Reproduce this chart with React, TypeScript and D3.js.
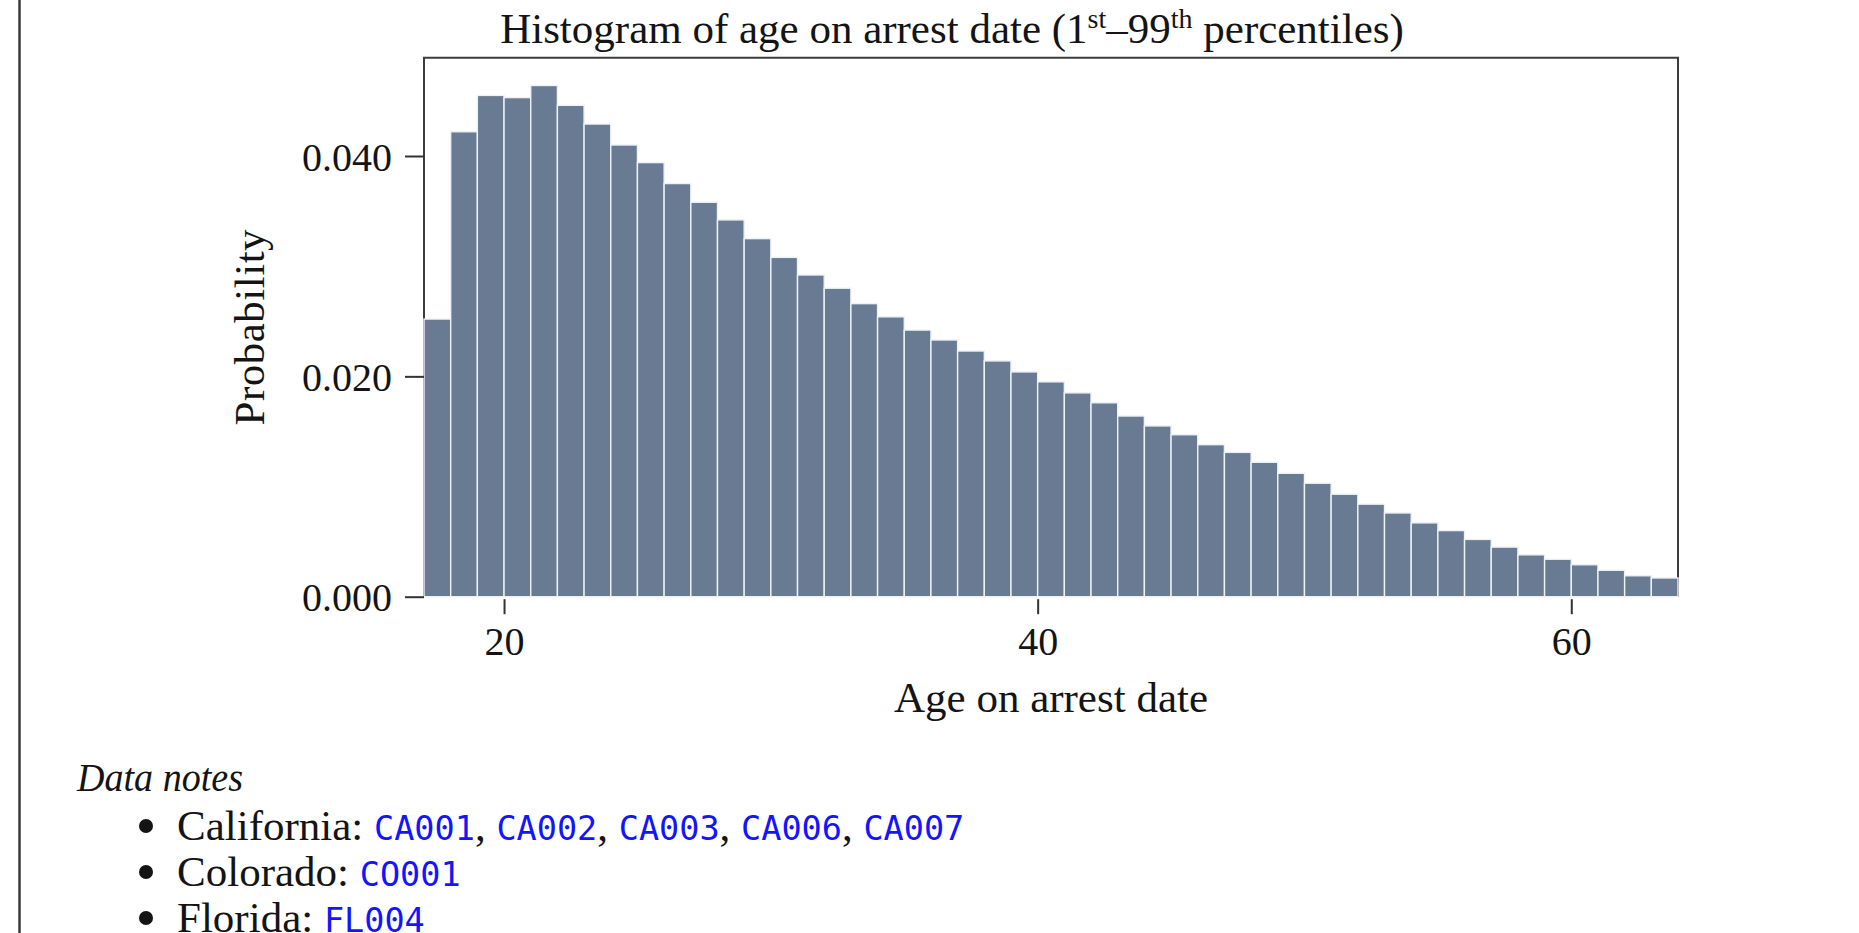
import React, { useEffect, useRef } from 'react';
import * as d3 from 'd3';

const binStarts = [17, 18, 19, 20, 21, 22, 23, 24, 25, 26, 27, 28, 29, 30, 31, 32, 33, 34, 35, 36, 37, 38, 39, 40, 41, 42, 43, 44, 45, 46, 47, 48, 49, 50, 51, 52, 53, 54, 55, 56, 57, 58, 59, 60, 61, 62, 63];
const binWidth = 1;
const probabilities = [
  0.0252, 0.0422, 0.0455, 0.0453, 0.0464, 0.0446, 0.0429, 0.0410, 0.0394, 0.0375,
  0.0358, 0.0342, 0.0325, 0.0308, 0.0292, 0.0280, 0.0266, 0.0254, 0.0242, 0.0233,
  0.0223, 0.0214, 0.0204, 0.0195, 0.0185, 0.0176, 0.0164, 0.0155, 0.0147, 0.0138,
  0.0131, 0.0122, 0.0112, 0.0103, 0.0093, 0.0084, 0.0076, 0.0067, 0.0060, 0.0052,
  0.0045, 0.0038, 0.0034, 0.0029, 0.0024, 0.0019, 0.0017,
];
const xDomain = [17, 64];
const yTicks = [0, 0.02, 0.04];
const xTicks = [20, 40, 60];
const titleParts = ['Histogram of age on arrest date (1', 'st', '–99', 'th', ' percentiles)'];
const xLabel = 'Age on arrest date';
const yLabel = 'Probability';
const notesHeading = 'Data notes';
const noteStates = ['California', 'Colorado', 'Florida'];
const noteCodes = [
  ['CA001', 'CA002', 'CA003', 'CA006', 'CA007'],
  ['CO001'],
  ['FL004'],
];

const SERIF = '"Liberation Serif", "Times New Roman", serif';
const MONO = '"DejaVu Sans Mono", "Liberation Mono", monospace';
const BAR = '#687b93';
const INK = '#141414';

export default function App() {
  const ref = useRef<SVGSVGElement>(null);

  useEffect(() => {
    const W = 1859, H = 933;
    const L = 424, R = 1678, T = 57.7, B = 596.7;
    const svg = d3.select(ref.current);
    svg.selectAll('*').remove();

    svg.append('rect').attr('width', W).attr('height', H).attr('fill', '#fff');

    // page margin rule
    svg.append('line').attr('x1', 19.5).attr('x2', 19.5).attr('y1', 0).attr('y2', H)
      .attr('stroke', '#3a3a3a').attr('stroke-width', 2.5);

    const x = d3.scaleLinear().domain(xDomain).range([L, R]);
    const y = d3.scaleLinear().domain([0, 0.04]).range([B, 156]);

    // frame (behind bars)
    svg.append('path')
      .attr('d', `M${L},${B}V${T}H${R}V${B}`)
      .attr('fill', 'none').attr('stroke', '#3c3c3c').attr('stroke-width', 2);

    // bars
    svg.append('g').selectAll('rect').data(probabilities).join('rect')
      .attr('x', (_d, i) => x(binStarts[i]))
      .attr('width', (_d, i) => x(binStarts[i] + binWidth) - x(binStarts[i]))
      .attr('y', (d) => y(d))
      .attr('height', (d) => y(0) - y(d))
      .attr('fill', BAR)
      .attr('stroke', '#eef1f5')
      .attr('stroke-width', 1.4);

    // y axis
    const gy = svg.append('g').attr('transform', `translate(${L},0)`)
      .call(d3.axisLeft(y).tickValues(yTicks).tickFormat(d3.format('.3f')).tickSize(19).tickPadding(13));
    gy.select('.domain').remove();
    gy.selectAll('line').attr('stroke', '#333').attr('stroke-width', 2);
    gy.selectAll('text').attr('font-family', SERIF).attr('font-size', 40).attr('fill', INK).attr('dy', '0.35em');

    // x axis
    const gx = svg.append('g').attr('transform', `translate(0,${B + 2.5})`)
      .call(d3.axisBottom(x).tickValues(xTicks).tickFormat(d3.format('d')).tickSize(15).tickPadding(12));
    gx.select('.domain').remove();
    gx.selectAll('line').attr('stroke', '#333').attr('stroke-width', 2);
    gx.selectAll('text').attr('font-family', SERIF).attr('font-size', 40).attr('fill', INK);

    // title
    const title = svg.append('text').attr('x', 952).attr('y', 43.3).attr('text-anchor', 'middle')
      .attr('font-family', SERIF).attr('font-size', 43).attr('fill', INK);
    title.append('tspan').text(titleParts[0]);
    title.append('tspan').attr('font-size', 28).attr('dy', -15).text(titleParts[1]);
    title.append('tspan').attr('dy', 15).text(titleParts[2]);
    title.append('tspan').attr('font-size', 28).attr('dy', -15).text(titleParts[3]);
    title.append('tspan').attr('dy', 15).text(titleParts[4]);

    // axis labels
    svg.append('text').attr('x', (L + R) / 2).attr('y', 711.5).attr('text-anchor', 'middle')
      .attr('font-family', SERIF).attr('font-size', 43).attr('fill', INK).text(xLabel);
    svg.append('text').attr('transform', `translate(264,${(T + B) / 2}) rotate(-90)`)
      .attr('text-anchor', 'middle').attr('font-family', SERIF).attr('font-size', 43)
      .attr('letter-spacing', 0.5).attr('fill', INK).text(yLabel);

    // data notes
    svg.append('text').attr('x', 77).attr('y', 790.7).attr('font-family', SERIF)
      .attr('font-style', 'italic').attr('font-size', 40).attr('fill', INK)
      .attr('textLength', 166).attr('lengthAdjust', 'spacingAndGlyphs').text(notesHeading);

    const baselines = [840, 886, 932];
    noteStates.forEach((state, i) => {
      const yy = baselines[i];
      svg.append('circle').attr('cx', 146).attr('cy', yy - 14).attr('r', 7).attr('fill', INK);
      const t = svg.append('text').attr('x', 177).attr('y', yy)
        .attr('font-family', SERIF).attr('font-size', 43).attr('fill', INK);
      t.append('tspan').text(`${state}: `);
      noteCodes[i].forEach((code, j) => {
        if (j > 0) t.append('tspan').attr('fill', INK).text(', ');
        t.append('tspan').attr('font-family', MONO).attr('font-size', 33.5).attr('fill', '#1414ff').text(code);
      });
    });
  }, []);

  return (
    <svg
      ref={ref}
      width={1859}
      height={933}
      style={{ position: 'absolute', left: 0, top: 0, display: 'block' }}
    />
  );
}
